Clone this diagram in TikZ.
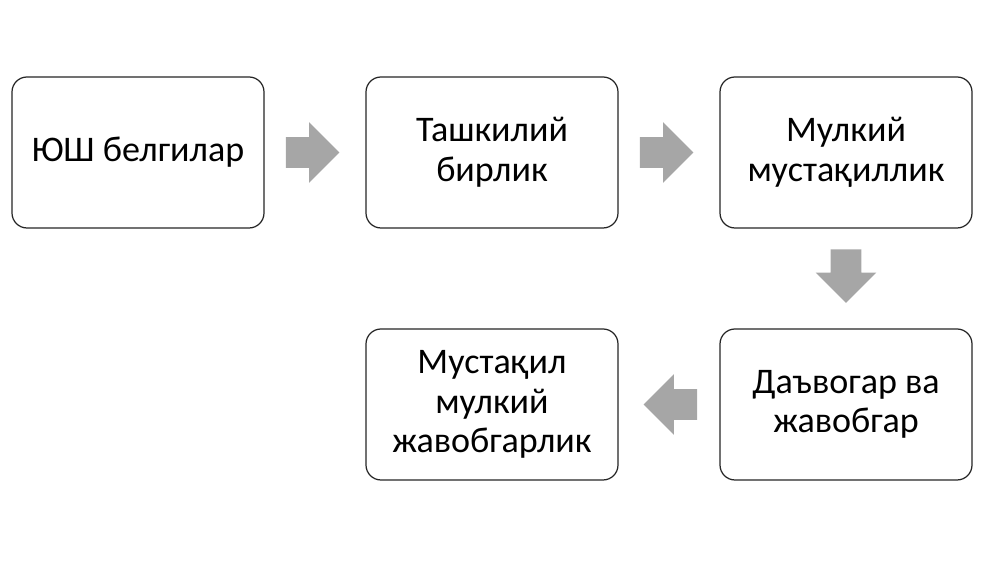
\documentclass[tikz,border=0pt]{standalone}
\usepackage{fontspec}
\setmainfont{Carlito}
\usetikzlibrary{shapes.arrows,calc}

\tikzset{
	stagebox/.style={rectangle,draw=black!85,line width=0.7pt,rounded corners=0.3cm,fill=white,
		minimum width=5.04cm,minimum height=3.02cm,align=center,font=\fontsize{20.5}{22.5}\selectfont},
	blockarrow/.style={single arrow,fill=black!35,draw=none,inner xsep=0pt,inner ysep=0.3cm,
		minimum width=1.2cm,minimum height=1.07cm,single arrow head extend=0.3cm}
}

\begin{document}
\begin{tikzpicture}
		\useasboundingbox (0,0) rectangle (20,11.24);
		\path (2.76,8.19) node(belgi) [stagebox] {ЮШ белгилар};
		\path (9.84,8.19) node(birlik) [stagebox] {Ташкилий\\бирлик};
		\path (16.92,8.19) node(mulk) [stagebox] {Мулкий\\мустақиллик};
		\path (16.92,3.15) node(davo) [stagebox] {Даъвогар ва\\жавобгар};
		\path (9.84,3.15) node(javob) [stagebox] {Мустақил\\мулкий\\жавобгарлик};

		\path ($(belgi.east)!0.5!(birlik.west)$) +(-0.2,0) node(ar1) [blockarrow] {};
		\path ($(birlik.east)!0.5!(mulk.west)$) +(-0.2,0) node(ar2) [blockarrow] {};
		\path ($(mulk.south)!0.5!(davo.north)$) +(0,0.2) node(ar3) [blockarrow,inner xsep=0.3cm,inner ysep=0pt,shape border rotate=270] {};
		\path ($(davo.west)!0.5!(javob.east)$) +(0.18,0) node(ar4) [blockarrow,shape border rotate=180] {};
	\end{tikzpicture}
\end{document}
